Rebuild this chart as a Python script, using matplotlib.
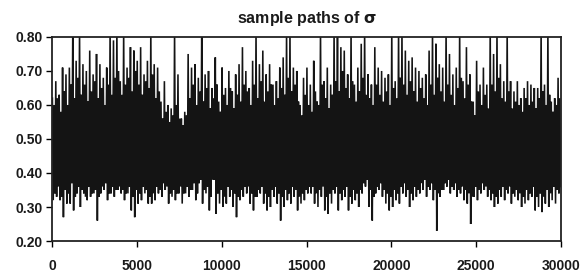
import numpy as np
import matplotlib
matplotlib.use("Agg")
import matplotlib.pyplot as plt
from matplotlib.ticker import FormatStrFormatter

# Extremes of the sampled sigma path, per block of 200 iterations
# hi / lo: tallest upward and deepest downward excursion in the block
hi = [
    0.62, 0.67, 0.63, 0.71, 0.69, 0.71, 0.82, 0.73, 0.82, 0.72, 0.70, 0.76, 0.69, 0.75, 0.72, 0.68, 0.71, 0.82, 0.79,
    0.82, 0.67, 0.82, 0.71, 0.77, 0.76, 0.73, 0.77, 0.69, 0.73, 0.82, 0.72, 0.71, 0.61, 0.67, 0.60, 0.59, 0.82, 0.69,
    0.56, 0.58, 0.75, 0.71, 0.72, 0.68, 0.82, 0.69, 0.70, 0.65, 0.74, 0.61, 0.71, 0.65, 0.70, 0.64, 0.69, 0.72, 0.77,
    0.70, 0.65, 0.73, 0.82, 0.72, 0.76, 0.69, 0.72, 0.66, 0.67, 0.71, 0.74, 0.82, 0.82, 0.71, 0.70, 0.60, 0.68, 0.71,
    0.66, 0.73, 0.61, 0.82, 0.67, 0.71, 0.66, 0.82, 0.82, 0.77, 0.76, 0.69, 0.82, 0.66, 0.71, 0.78, 0.82, 0.69, 0.66,
    0.77, 0.71, 0.70, 0.68, 0.69, 0.82, 0.67, 0.82, 0.82, 0.76, 0.73, 0.74, 0.71, 0.70, 0.68, 0.69, 0.76, 0.82, 0.78,
    0.72, 0.71, 0.82, 0.75, 0.69, 0.71, 0.82, 0.67, 0.77, 0.69, 0.61, 0.73, 0.66, 0.71, 0.66, 0.82, 0.75, 0.82, 0.72,
    0.67, 0.82, 0.67, 0.64, 0.67, 0.62, 0.65, 0.67, 0.66, 0.65, 0.65, 0.82, 0.66, 0.82, 0.61, 0.62, 0.68,
]
lo = [
    0.32, 0.33, 0.32, 0.27, 0.31, 0.31, 0.29, 0.34, 0.30, 0.34, 0.32, 0.33, 0.34, 0.26, 0.34, 0.35, 0.32, 0.34, 0.33,
    0.35, 0.34, 0.32, 0.34, 0.29, 0.27, 0.31, 0.32, 0.34, 0.31, 0.31, 0.32, 0.34, 0.33, 0.35, 0.31, 0.33, 0.32, 0.34,
    0.31, 0.34, 0.33, 0.35, 0.32, 0.37, 0.31, 0.34, 0.29, 0.38, 0.28, 0.31, 0.30, 0.31, 0.33, 0.30, 0.27, 0.32, 0.33,
    0.34, 0.31, 0.29, 0.33, 0.34, 0.31, 0.29, 0.30, 0.33, 0.31, 0.26, 0.30, 0.32, 0.31, 0.33, 0.29, 0.31, 0.32, 0.34,
    0.34, 0.31, 0.30, 0.33, 0.29, 0.28, 0.31, 0.34, 0.29, 0.32, 0.33, 0.29, 0.31, 0.32, 0.30, 0.34, 0.36, 0.30, 0.26,
    0.34, 0.35, 0.33, 0.31, 0.29, 0.30, 0.32, 0.31, 0.34, 0.33, 0.30, 0.32, 0.33, 0.34, 0.35, 0.33, 0.35, 0.32, 0.23,
    0.33, 0.35, 0.36, 0.34, 0.35, 0.33, 0.34, 0.32, 0.31, 0.25, 0.33, 0.32, 0.34, 0.35, 0.33, 0.32, 0.30, 0.31, 0.33,
    0.32, 0.34, 0.31, 0.33, 0.32, 0.30, 0.31, 0.32, 0.33, 0.29, 0.30, 0.285, 0.31, 0.30, 0.32, 0.31, 0.34,
]
# hi2 / lo2: secondary (typical) excursions in the same blocks
hi2 = [
    0.60, 0.62, 0.58, 0.64, 0.60, 0.66, 0.62, 0.68, 0.63, 0.66, 0.61, 0.64, 0.67, 0.62, 0.65, 0.60, 0.66, 0.63, 0.68,
    0.70, 0.63, 0.66, 0.68, 0.64, 0.70, 0.66, 0.63, 0.67, 0.65, 0.69, 0.62, 0.64, 0.56, 0.58, 0.55, 0.57, 0.60, 0.56,
    0.54, 0.57, 0.62, 0.66, 0.60, 0.64, 0.61, 0.65, 0.59, 0.62, 0.66, 0.58, 0.63, 0.60, 0.65, 0.59, 0.63, 0.61, 0.66,
    0.64, 0.60, 0.66, 0.62, 0.67, 0.61, 0.64, 0.66, 0.60, 0.62, 0.65, 0.63, 0.68, 0.64, 0.66, 0.61, 0.57, 0.63, 0.60,
    0.58, 0.64, 0.60, 0.66, 0.62, 0.59, 0.63, 0.67, 0.64, 0.70, 0.65, 0.62, 0.67, 0.61, 0.64, 0.68, 0.63, 0.62, 0.60,
    0.66, 0.63, 0.61, 0.64, 0.60, 0.65, 0.62, 0.68, 0.66, 0.63, 0.67, 0.64, 0.61, 0.65, 0.62, 0.60, 0.66, 0.63, 0.68,
    0.64, 0.61, 0.66, 0.63, 0.60, 0.65, 0.68, 0.62, 0.66, 0.61, 0.57, 0.64, 0.60, 0.63, 0.59, 0.66, 0.64, 0.68, 0.62,
    0.61, 0.64, 0.59, 0.61, 0.60, 0.58, 0.62, 0.60, 0.61, 0.59, 0.62, 0.64, 0.60, 0.63, 0.58, 0.60, 0.62,
]
lo2 = [
    0.34, 0.36, 0.33, 0.35, 0.34, 0.37, 0.33, 0.36, 0.35, 0.33, 0.36, 0.34, 0.35, 0.33, 0.36, 0.37, 0.34, 0.36, 0.35,
    0.36, 0.35, 0.34, 0.36, 0.33, 0.35, 0.34, 0.36, 0.35, 0.33, 0.34, 0.36, 0.35, 0.37, 0.36, 0.34, 0.35, 0.34, 0.36,
    0.34, 0.36, 0.35, 0.37, 0.34, 0.38, 0.35, 0.36, 0.33, 0.38, 0.34, 0.35, 0.33, 0.36, 0.35, 0.34, 0.33, 0.35, 0.36,
    0.36, 0.34, 0.33, 0.35, 0.36, 0.34, 0.33, 0.35, 0.36, 0.34, 0.33, 0.35, 0.34, 0.36, 0.35, 0.33, 0.34, 0.35, 0.36,
    0.36, 0.34, 0.35, 0.36, 0.33, 0.34, 0.35, 0.36, 0.34, 0.35, 0.36, 0.33, 0.35, 0.34, 0.35, 0.37, 0.38, 0.35, 0.33,
    0.36, 0.37, 0.35, 0.34, 0.33, 0.35, 0.34, 0.36, 0.37, 0.35, 0.34, 0.36, 0.35, 0.37, 0.38, 0.36, 0.37, 0.35, 0.34,
    0.35, 0.37, 0.38, 0.36, 0.37, 0.35, 0.36, 0.35, 0.34, 0.33, 0.36, 0.35, 0.37, 0.36, 0.35, 0.34, 0.33, 0.35, 0.36,
    0.35, 0.36, 0.34, 0.35, 0.34, 0.33, 0.35, 0.34, 0.36, 0.33, 0.34, 0.33, 0.35, 0.34, 0.36, 0.35, 0.36,
]
block = 200

xticks = [0, 5000, 10000, 15000, 20000, 25000, 30000]
yticks = [0.20, 0.30, 0.40, 0.50, 0.60, 0.70, 0.80]
title = "sample paths of $\\mathbf{\\sigma}$"

plt.rcParams['font.family'] = ['Liberation Sans', 'DejaVu Sans']
plt.rcParams['mathtext.fontset'] = 'dejavusans'

n = min(len(hi), len(lo), len(hi2), len(lo2))
xs, ys = [], []
for i in range(n):
    xs += [block * (i + 0.125), block * (i + 0.375), block * (i + 0.625), block * (i + 0.875)]
    ys += [hi[i], lo[i], hi2[i], lo2[i]]

fig = plt.figure(figsize=(5.82, 2.75), dpi=100)
ax = fig.add_axes([0.0893, 0.1236, 0.8747, 0.742])
ax.plot(xs, ys, color='#141414', lw=1.15, solid_joinstyle='miter')
ax.set_xlim(0, 30000)
ax.set_ylim(0.2, 0.8)
ax.set_xticks(xticks)
ax.set_yticks(yticks)
ax.yaxis.set_major_formatter(FormatStrFormatter('%.2f'))
for lab in ax.get_xticklabels() + ax.get_yticklabels():
    lab.set_fontweight('bold')
    lab.set_fontsize(10)
    lab.set_color('#1a1a1a')
ax.tick_params(direction='out', length=4, width=1, pad=9, axis='x')
ax.tick_params(direction='out', length=4, width=1, pad=3, axis='y')
for s in ['top', 'right', 'left', 'bottom']:
    ax.spines[s].set_linewidth(1.3)
    ax.spines[s].set_color('#222222')
ax.set_title(title, fontsize=11.5, fontweight='bold', pad=10, color='#1a1a1a')
fig.savefig('out.png', dpi=100)
